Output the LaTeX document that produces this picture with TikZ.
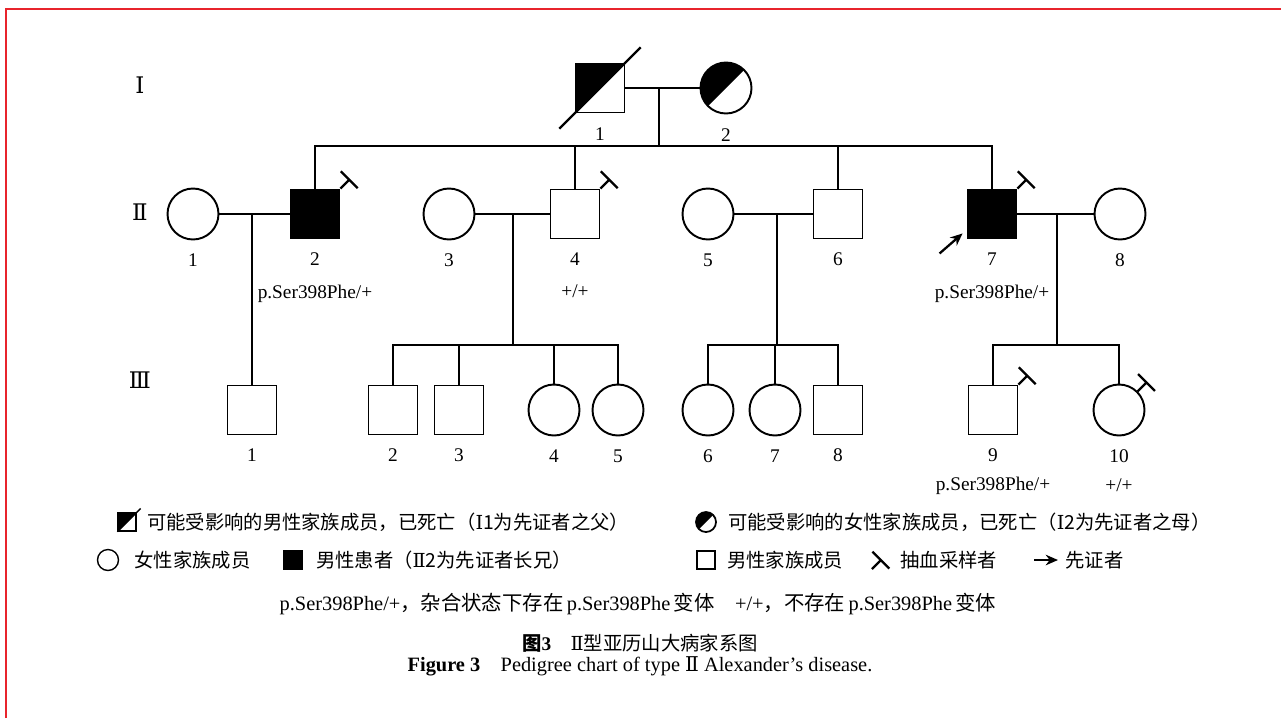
\documentclass[tikz,border=0pt]{standalone}
\usepackage{fontspec}
\setmainfont{Liberation Serif}
\newfontfamily\cjk{Noto Sans CJK SC}
\newfontfamily\romfont{DejaVu Serif}
\usetikzlibrary{positioning,calc,arrows.meta}
\definecolor{framered}{RGB}{232,36,44}

\begin{document}
\begin{tikzpicture}[
    x=0.02cm, y=-0.02cm,
    male/.style={rectangle, draw=black, line width=1.1pt, fill=white, minimum size=0.98cm, inner sep=0pt},
    female/.style={circle, draw=black, line width=1.1pt, fill=white, minimum size=1.02cm, inner sep=0pt},
    affected/.style={fill=black},
    halffill/.style={path picture={\fill[black] (path picture bounding box.north west) -- (path picture bounding box.north east) -- (path picture bounding box.south west) -- cycle;}},
    line/.style={line width=0.9pt},
    num/.style={inner sep=0pt, font=\fontsize{11}{13}\selectfont},
    geno/.style={inner sep=0pt, font=\fontsize{11}{13}\selectfont},
    gen/.style={inner sep=0pt, font=\romfont\fontsize{13}{15}\selectfont},
    legtext/.style={anchor=west, inner sep=0pt, font=\cjk\fontsize{11}{13}\selectfont},
    proband/.style={-{Stealth[length=7pt,width=6pt]}, line width=1.3pt},
    blood/.pic={\draw[line width=1.3pt] (0,0) -- (45:0.25cm) ++(135:0.24cm) -- ++(-45:0.48cm);}
]
    \useasboundingbox (0,0) rectangle (1281,718);
    % --- FRAME ---
    \draw[framered, line width=1.6pt] (6,718) -- (6,9) -- (1281,9);

    % --- GENERATION LABELS ---
    \node[gen] (g1) at (140,85) {Ⅰ};
    \node[gen] (g2) at (140,212) {Ⅱ};
    \node[gen] (g3) at (140,380) {Ⅲ};

    % --- GENERATION I ---
    \node[male, halffill] (i1) at (600,88) {};
    \node[female, halffill] (i2) at (726,88) {};
    \draw[line width=1.3pt] ($(i1.south west)!-0.3!(i1.north east)$) -- ($(i1.south west)!1.3!(i1.north east)$);
    \node[num, below=0.27cm of i1] (n-i1) {1};
    \node[num, below=0.27cm of i2] (n-i2) {2};

    % --- GENERATION II ---
    \node[female] (ii1) at (193,214) {};
    \node[male, affected] (ii2) at (315,214) {};
    \node[female] (ii3) at (449,214) {};
    \node[male] (ii4) at (575,214) {};
    \node[female] (ii5) at (708,214) {};
    \node[male] (ii6) at (838,214) {};
    \node[male, affected] (ii7) at (992,214) {};
    \node[female] (ii8) at (1120,214) {};
    \foreach \p/\t in {ii1/1, ii2/2, ii3/3, ii4/4, ii5/5, ii6/6, ii7/7, ii8/8}
        \node[num, below=0.26cm of \p] (n-\p) {\t};
    \node[geno, below=0.38cm of n-ii2] (gt-ii2) {p.Ser398Phe/+};
    \node[geno, below=0.38cm of n-ii4] (gt-ii4) {+/+};
    \node[geno, below=0.38cm of n-ii7] (gt-ii7) {p.Ser398Phe/+};

    % --- GENERATION III ---
    \node[male] (iii1) at (252,410) {};
    \node[male] (iii2) at (393,410) {};
    \node[male] (iii3) at (459,410) {};
    \node[female] (iii4) at (554,410) {};
    \node[female] (iii5) at (618,410) {};
    \node[female] (iii6) at (708,410) {};
    \node[female] (iii7) at (775,410) {};
    \node[male] (iii8) at (838,410) {};
    \node[male] (iii9) at (993,410) {};
    \node[female] (iii10) at (1119,410) {};
    \foreach \p/\t in {iii1/1, iii2/2, iii3/3, iii4/4, iii5/5, iii6/6, iii7/7, iii8/8, iii9/9, iii10/10}
        \node[num, below=0.26cm of \p] (n-\p) {\t};
    \node[geno, below=0.3cm of n-iii9] (gt-iii9) {p.Ser398Phe/+};
    \node[geno, below=0.3cm of n-iii10] (gt-iii10) {+/+};

    % --- LINES OF DESCENT ---
    \coordinate (m1) at (659,88);
    \coordinate (s1) at (659,146);
    \draw[line] (i1) -- (i2);
    \draw[line] (m1) -- (s1);
    \draw[line] (ii2.north) |- (ii7.north |- s1) -- (ii7.north);
    \draw[line] (ii4.north) -- (ii4.north |- s1);
    \draw[line] (ii6.north) -- (ii6.north |- s1);

    \draw[line] (ii1) -- (ii2);
    \draw[line] (iii1.north) -- (iii1.north |- ii1);

    \coordinate (m3) at (513,214);
    \coordinate (s3) at (513,345);
    \draw[line] (ii3) -- (ii4);
    \draw[line] (m3) -- (s3);
    \draw[line] (iii2.north) |- (s3) -| (iii5.north);
    \draw[line] (iii3.north) -- (iii3.north |- s3);
    \draw[line] (iii4.north) -- (iii4.north |- s3);

    \coordinate (m4) at (777,214);
    \coordinate (s4) at (777,345);
    \draw[line] (ii5) -- (ii6);
    \draw[line] (m4) -- (s4);
    \draw[line] (iii6.north) |- (s4) -| (iii8.north);
    \draw[line] (iii7.north) -- (iii7.north |- s4);

    \coordinate (m5) at (1057,214);
    \coordinate (s5) at (1057,345);
    \draw[line] (ii7) -- (ii8);
    \draw[line] (m5) -- (s5);
    \draw[line] (iii9.north) |- (s5) -| (iii10.north);

    % --- SAMPLING MARKS AND PROBAND ---
    \pic at (ii2.north east) {blood};
    \pic at (ii4.north east) {blood};
    \pic at (ii7.north east) {blood};
    \pic at (iii9.north east) {blood};
    \pic at (iii10.45) {blood};
    \draw[proband] ([shift={(-0.54cm,-0.28cm)}]ii7.south west) -- ([shift={(-0.08cm,0.12cm)}]ii7.south west);

    % --- LEGEND ---
    \node[male, halffill, minimum size=0.36cm, line width=0.8pt] (key-dm) at (127,522) {};
    \draw[line width=0.8pt] (key-dm.south west) -- ($(key-dm.south west)!1.2!(key-dm.north east)$);
    \node[legtext, right=0.2cm of key-dm] (key-dm-t) {可能受影响的男性家族成员，已死亡（{\romfont Ⅰ}1为先证者之父）};
    \node[female, halffill, minimum size=0.4cm, line width=1pt] (key-df) at (706,522) {};
    \node[legtext, right=0.22cm of key-df] (key-df-t) {可能受影响的女性家族成员，已死亡（{\romfont Ⅰ}2为先证者之母）};

    \node[female, minimum size=0.42cm, line width=0.8pt] (key-f) at (108,560) {};
    \node[legtext, right=0.3cm of key-f] (key-f-t) {女性家族成员};
    \node[male, affected, minimum size=0.36cm, line width=0.8pt] (key-a) at (293,560) {};
    \node[legtext, right=0.26cm of key-a] (key-a-t) {男性患者（{\romfont Ⅱ}2为先证者长兄）};
    \node[male, minimum size=0.36cm, line width=0.8pt] (key-m) at (706,560) {};
    \node[legtext, right=0.22cm of key-m] (key-m-t) {男性家族成员};
    \pic at (872,569) {blood};
    \node[legtext] (key-s-t) at (900,560) {抽血采样者};
    \coordinate (key-p-a) at (1034,560);
    \coordinate (key-p-b) at (1058,560);
    \draw[proband] (key-p-a) -- (key-p-b);
    \node[legtext, right=0.14cm of key-p-b] (key-p-t) {先证者};

    % --- NOTE AND CAPTION ---
    \node[inner sep=0pt, font=\fontsize{11.6}{13}\selectfont] (note) at (638,604)
        {p.Ser398Phe/+{\cjk ，杂合状态下存在}\,p.Ser398Phe\,{\cjk 变体}\quad+/+{\cjk ，不存在}\,p.Ser398Phe\,{\cjk 变体}};
    \node[inner sep=0pt, font=\fontsize{11}{13}\selectfont] (cap-cn) at (640,643)
        {{\cjk\bfseries 图}\textbf{3}\quad{\romfont Ⅱ}{\cjk 型亚历山大病家系图}};
    \node[inner sep=0pt, font=\fontsize{11.6}{13}\selectfont] (cap-en) at (640,666)
        {\textbf{Figure 3}\quad Pedigree chart of type {\romfont Ⅱ} Alexander's disease.};
\end{tikzpicture}
\end{document}
